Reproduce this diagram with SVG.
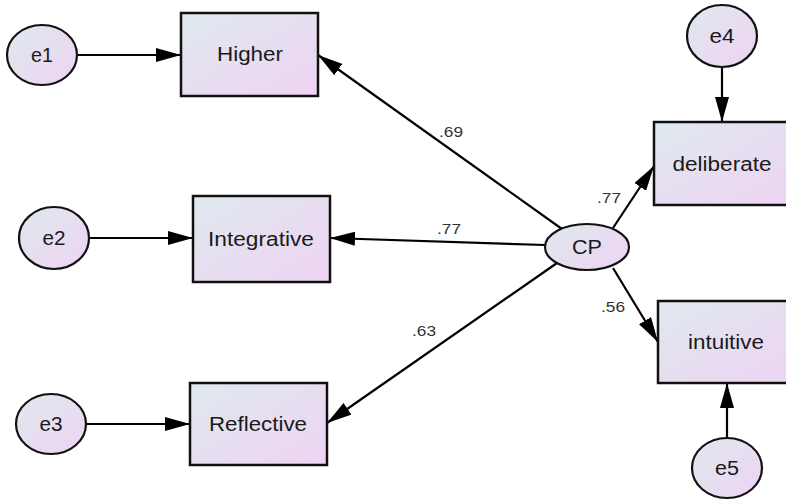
<svg xmlns="http://www.w3.org/2000/svg" width="786" height="501" viewBox="0 0 786 501">
  <defs>
    <linearGradient id="fillGrad" x1="0" y1="0" x2="1" y2="1">
      <stop offset="0" stop-color="#dfe9ee"/>
      <stop offset="1" stop-color="#eed3f3"/>
    </linearGradient>
    <marker id="arrow" viewBox="0 0 25 14" refX="25" refY="7" markerWidth="25" markerHeight="14" markerUnits="userSpaceOnUse" orient="auto">
      <path d="M0,0 L25,7 L0,14 Z" fill="#000"/>
    </marker>
  </defs>
  <style>
    .box { fill: url(#fillGrad); stroke: #111; stroke-width: 2.5; }
    .ell { fill: url(#fillGrad); stroke: #111; stroke-width: 2.2; }
    .lbl { font-family: "Liberation Sans", Arial, sans-serif; font-size: 20px; fill: #1a1a1a; text-anchor: middle; dominant-baseline: central; }
    .coef { font-family: "Liberation Sans", Arial, sans-serif; font-size: 15px; fill: #333; text-anchor: middle; }
    .edge { stroke: #000; stroke-width: 2.2; fill: none; marker-end: url(#arrow); }
  </style>
  <rect width="786" height="501" fill="#fff"/>

  <g id="connectors">
    <line class="edge" x1="77" y1="55" x2="181" y2="55"/>
    <line class="edge" x1="89" y1="238" x2="193" y2="238"/>
    <line class="edge" x1="86" y1="424" x2="190" y2="424"/>
    <line class="edge" x1="722" y1="67" x2="722" y2="122"/>
    <line class="edge" x1="727" y1="438" x2="727" y2="383"/>
    <line class="edge" x1="562" y1="229" x2="318" y2="55"/>
    <line class="edge" x1="545" y1="245" x2="330" y2="238"/>
    <line class="edge" x1="557" y1="263" x2="327" y2="423"/>
    <line class="edge" x1="613" y1="228" x2="654" y2="166"/>
    <line class="edge" x1="613" y1="268" x2="658" y2="342"/>
    <text class="coef" x="451" y="137" textLength="24" lengthAdjust="spacingAndGlyphs">.69</text>
    <text class="coef" x="449" y="234" textLength="24" lengthAdjust="spacingAndGlyphs">.77</text>
    <text class="coef" x="424" y="336" textLength="24" lengthAdjust="spacingAndGlyphs">.63</text>
    <text class="coef" x="609" y="203" textLength="24" lengthAdjust="spacingAndGlyphs">.77</text>
    <text class="coef" x="613" y="312" textLength="24" lengthAdjust="spacingAndGlyphs">.56</text>
  </g>

  <g id="e1"><ellipse class="ell" cx="42" cy="55" rx="35" ry="30"/><text class="lbl" x="42" y="55" textLength="22" lengthAdjust="spacingAndGlyphs">e1</text></g>
  <g id="e2"><ellipse class="ell" cx="54" cy="238" rx="35" ry="31"/><text class="lbl" x="54" y="238" textLength="23" lengthAdjust="spacingAndGlyphs">e2</text></g>
  <g id="e3"><ellipse class="ell" cx="51" cy="424" rx="35" ry="30"/><text class="lbl" x="51" y="424" textLength="23" lengthAdjust="spacingAndGlyphs">e3</text></g>
  <g id="e4"><ellipse class="ell" cx="722" cy="36" rx="35" ry="31"/><text class="lbl" x="722" y="36" textLength="25" lengthAdjust="spacingAndGlyphs">e4</text></g>
  <g id="e5"><ellipse class="ell" cx="727" cy="468" rx="35" ry="30"/><text class="lbl" x="727" y="468" textLength="24" lengthAdjust="spacingAndGlyphs">e5</text></g>

  <g id="higher"><rect class="box" x="181" y="13" width="137" height="83"/><text class="lbl" x="250" y="54" textLength="66" lengthAdjust="spacingAndGlyphs">Higher</text></g>
  <g id="integrative"><rect class="box" x="193" y="196" width="137" height="86"/><text class="lbl" x="261" y="239" textLength="106" lengthAdjust="spacingAndGlyphs">Integrative</text></g>
  <g id="reflective"><rect class="box" x="190" y="383" width="137" height="82"/><text class="lbl" x="258" y="424" textLength="98" lengthAdjust="spacingAndGlyphs">Reflective</text></g>
  <g id="deliberate"><rect class="box" x="654" y="122" width="140" height="83"/><text class="lbl" x="722" y="164" textLength="99" lengthAdjust="spacingAndGlyphs">deliberate</text></g>
  <g id="intuitive"><rect class="box" x="658" y="301" width="140" height="82"/><text class="lbl" x="726" y="342" textLength="76" lengthAdjust="spacingAndGlyphs">intuitive</text></g>

  <g id="cp"><ellipse class="ell" cx="587" cy="247" rx="42" ry="23"/><text class="lbl" x="587" y="247" textLength="30" lengthAdjust="spacingAndGlyphs">CP</text></g>
</svg>
